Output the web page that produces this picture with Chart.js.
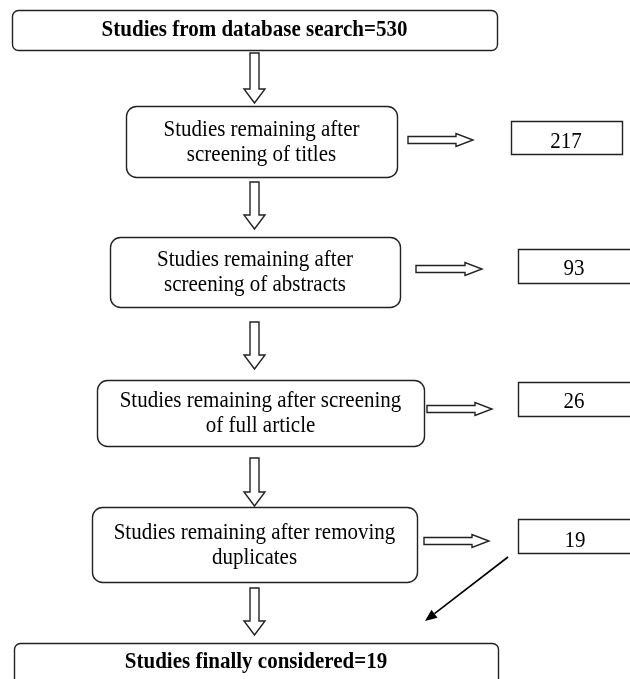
<!DOCTYPE html>
<html>
<head>
<meta charset="utf-8">
<script src="https://cdn.jsdelivr.net/npm/chart.js@4.4.1/dist/chart.umd.min.js"></script>
<style>
  body { margin: 0; background: #fff; }
  #wrap { width: 630px; height: 679px; }
</style>
</head>
<body>
<div id="wrap"><canvas id="flow" width="630" height="679"></canvas></div>
<script>
// flow data
const startLabel = "Studies from database search";
const startCount = 530;
const stepLabels = [
    ["Studies remaining after", "screening of titles"],
    ["Studies remaining after", "screening of abstracts"],
    ["Studies remaining after screening", "of full article"],
    ["Studies remaining after removing", "duplicates"]
];
const stepCounts = [217, 93, 26, 19];
const finalLabel = "Studies finally considered";
const finalCount = 19;

// layout (canvas units, y down)
const startBox = { x0: 12, x1: 497, y0: 10, y1: 50, r: 6 };
const stepBoxes = [
    { x0: 126, x1: 397, y0: 106, y1: 177 },
    { x0: 110, x1: 400, y0: 237, y1: 307 },
    { x0: 97, x1: 424, y0: 380, y1: 446 },
    { x0: 92, x1: 417, y0: 507, y1: 582 }
];
const finalBox = { x0: 14, x1: 498, y0: 643, y1: 686, r: 6 };
const countBoxes = [
    { x0: 511, x1: 622, y0: 121, y1: 154, tx: 566, ty: 141.5 },
    { x0: 518, x1: 640, y0: 249, y1: 283, tx: 574, ty: 268.5 },
    { x0: 518, x1: 640, y0: 382, y1: 416, tx: 574, ty: 401.5 },
    { x0: 518, x1: 640, y0: 519, y1: 553, tx: 575, ty: 540.5 }
];
const downArrows = [[53, 103], [182, 229], [322, 369], [458, 506], [588, 635]];
const downArrowX = 254.5;
const rightArrows = [[408, 473, 140], [416, 482, 269], [427, 492, 409], [424, 489, 541]];
const diagArrow = [508, 557, 425, 621];

const LINE = '#222';
const FONT = '"Liberation Serif", "Times New Roman", serif';
const TEXT_STRETCH = 1.12; // glyphs in the figure are a bit taller than wide

const flowPlugin = {
    id: 'flow',
    afterDatasetsDraw(chart) {
        const ctx = chart.ctx;
        const sx = v => chart.scales.x.getPixelForValue(v);
        const sy = v => chart.scales.y.getPixelForValue(v);

        function roundBox(b, r) {
            const x0 = sx(b.x0), x1 = sx(b.x1), y0 = sy(b.y0), y1 = sy(b.y1);
            ctx.beginPath();
            if (r > 0) {
                ctx.roundRect(x0 + 0.5, y0 + 0.5, x1 - x0, y1 - y0, r);
            } else {
                ctx.rect(x0 + 0.5, y0 + 0.5, x1 - x0, y1 - y0);
            }
            ctx.fillStyle = '#fff';
            ctx.fill();
            ctx.stroke();
        }

        function text(str, x, y, bold) {
            ctx.save();
            ctx.font = (bold ? 'bold ' : '') + '21px ' + FONT;
            ctx.fillStyle = '#000';
            ctx.textAlign = 'center';
            ctx.textBaseline = 'middle';
            ctx.translate(sx(x), sy(y));
            ctx.scale(1, TEXT_STRETCH);
            ctx.fillText(str, 0, 0);
            ctx.restore();
        }

        ctx.save();
        ctx.strokeStyle = LINE;
        ctx.lineWidth = 1.4;
        ctx.lineJoin = 'miter';

        // main boxes
        roundBox(startBox, startBox.r);
        text(startLabel + "=" + startCount, (startBox.x0 + startBox.x1) / 2, 30, true);

        stepBoxes.forEach((b, i) => {
            roundBox(b, 10);
            const cx = (b.x0 + b.x1) / 2;
            const cy = (b.y0 + b.y1) / 2;
            text(stepLabels[i][0], cx, cy - 12, false);
            text(stepLabels[i][1], cx, cy + 13, false);
        });

        roundBox(finalBox, finalBox.r);
        text(finalLabel + "=" + finalCount, (finalBox.x0 + finalBox.x1) / 2, 662, true);

        // count boxes
        countBoxes.forEach((b, i) => {
            roundBox(b, 0);
            text(String(stepCounts[i]), b.tx, b.ty, false);
        });

        // hollow down arrows
        downArrows.forEach(([a, b]) => {
            const hw = 4.5, hh = 10.5, head = 14;
            const pts = [
                [downArrowX - hw, a], [downArrowX + hw, a], [downArrowX + hw, b - head],
                [downArrowX + hh, b - head], [downArrowX, b], [downArrowX - hh, b - head],
                [downArrowX - hw, b - head]
            ];
            ctx.beginPath();
            pts.forEach((p, k) => k ? ctx.lineTo(sx(p[0]), sy(p[1])) : ctx.moveTo(sx(p[0]), sy(p[1])));
            ctx.closePath();
            ctx.fillStyle = '#fff';
            ctx.fill();
            ctx.stroke();
        });

        // hollow right arrows
        rightArrows.forEach(([a, b, y]) => {
            const hw = 3.5, hh = 6.5, head = 17;
            const pts = [
                [a, y - hw], [b - head, y - hw], [b - head, y - hh], [b, y],
                [b - head, y + hh], [b - head, y + hw], [a, y + hw]
            ];
            ctx.beginPath();
            pts.forEach((p, k) => k ? ctx.lineTo(sx(p[0]), sy(p[1])) : ctx.moveTo(sx(p[0]), sy(p[1])));
            ctx.closePath();
            ctx.fillStyle = '#fff';
            ctx.fill();
            ctx.stroke();
        });

        // diagonal arrow from last count box
        const [dx0, dy0, dx1, dy1] = diagArrow;
        const ang = Math.atan2(sy(dy1) - sy(dy0), sx(dx1) - sx(dx0));
        const hl = 12, hwid = 5;
        const bx = sx(dx1) - hl * Math.cos(ang), by = sy(dy1) - hl * Math.sin(ang);
        ctx.beginPath();
        ctx.moveTo(sx(dx0), sy(dy0));
        ctx.lineTo(bx, by);
        ctx.strokeStyle = '#000';
        ctx.lineWidth = 1.6;
        ctx.stroke();
        ctx.beginPath();
        ctx.moveTo(sx(dx1), sy(dy1));
        ctx.lineTo(bx + hwid * Math.sin(ang), by - hwid * Math.cos(ang));
        ctx.lineTo(bx - hwid * Math.sin(ang), by + hwid * Math.cos(ang));
        ctx.closePath();
        ctx.fillStyle = '#000';
        ctx.fill();

        ctx.restore();
    }
};

const ctx = document.getElementById('flow').getContext('2d');

const flowChart = new Chart(ctx, {
    type: 'scatter',
    data: {
        datasets: [{
            data: countBoxes.map((b, i) => ({ x: b.tx, y: b.ty, v: stepCounts[i] })),
            pointRadius: 0,
            showLine: false
        }]
    },
    options: {
        responsive: false,
        animation: false,
        layout: { padding: 0 },
        scales: {
            x: { type: 'linear', min: 0, max: 630, display: false },
            y: { type: 'linear', min: 0, max: 679, reverse: true, display: false }
        },
        plugins: {
            legend: { display: false },
            tooltip: { enabled: false }
        },
        events: []
    },
    plugins: [flowPlugin]
});
</script>
</body>
</html>
